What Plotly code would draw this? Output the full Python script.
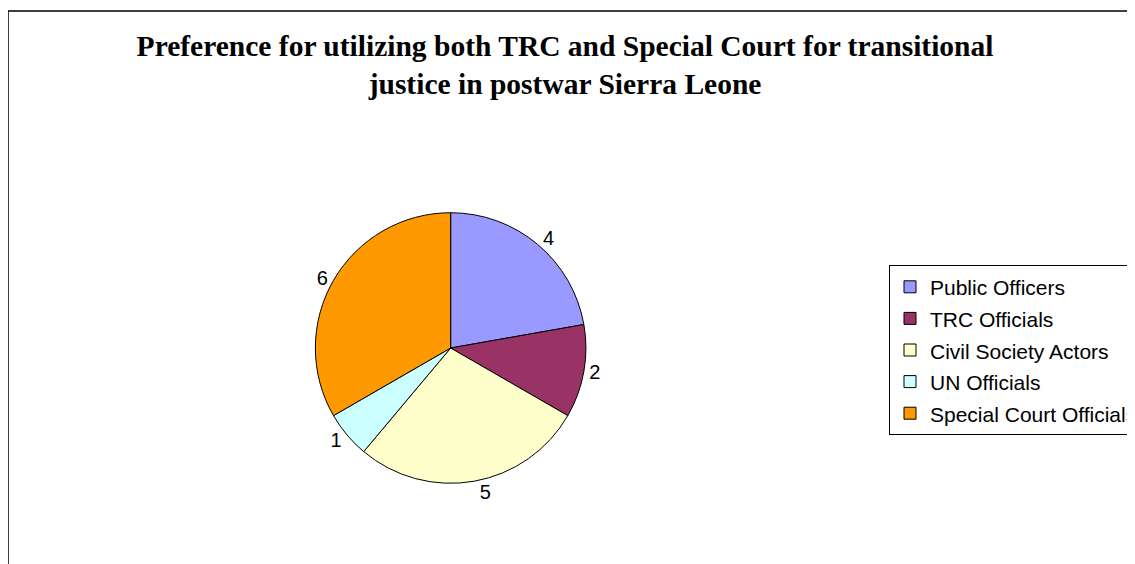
import plotly.graph_objects as go

categories = ["Public Officers", "TRC Officials", "Civil Society Actors", "UN Officials", "Special Court Officials"]
values = [4, 2, 5, 1, 6]
colors = ["#9999FF", "#993366", "#FFFFCC", "#CCFFFF", "#FF9900"]

W, H = 1135, 564

labels = ['<span style="font-size:21px">%s</span>' % c for c in categories]

fig = go.Figure(go.Pie(
    labels=labels,
    values=values,
    sort=False,
    direction="clockwise",
    rotation=0,
    marker=dict(colors=colors, line=dict(color="black", width=1)),
    textinfo="value",
    textposition="outside",
    textfont=dict(family="Liberation Sans, Arial", size=20, color="black"),
    outsidetextfont=dict(family="Liberation Sans, Arial", size=20, color="black"),
    domain=dict(x=[309 / W, 581 / W], y=[1 - 476 / H, 1 - 204 / H]),
    hoverinfo="label+value",
))

fig.update_layout(
    width=W, height=H,
    margin=dict(l=0, r=0, t=0, b=0),
    paper_bgcolor="white",
    plot_bgcolor="white",
    title=dict(
        text="<b>Preference for utilizing both TRC and Special Court for transitional<br>justice in postwar Sierra Leone</b>",
        font=dict(family="Liberation Serif, Times New Roman", size=29.5, color="black"),
        x=560 / W, xanchor="center", xref="paper",
        y=1 - 48 / H, yanchor="top", yref="container",
    ),
    legend=dict(
        x=886 / W, xanchor="left",
        y=1 - 257 / H, yanchor="top",
        bordercolor="black", borderwidth=1,
        bgcolor="white",
        font=dict(family="Liberation Sans, Arial", size=22, color="black"),
        traceorder="normal",
    ),
    shapes=[dict(type="rect", xref="paper", yref="paper",
                 x0=0, x1=1.05, y0=-0.05, y1=1 - 3 / H,
                 line=dict(color="black", width=1.5), fillcolor="rgba(0,0,0,0)", layer="below")],
)

fig.write_html("out.html")
